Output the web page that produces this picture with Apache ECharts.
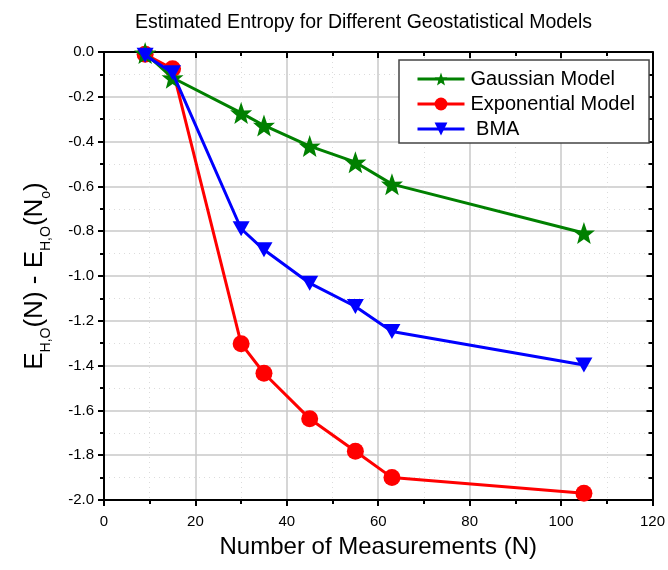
<!DOCTYPE html>
<html>
<head>
<meta charset="utf-8">
<script src="https://cdn.jsdelivr.net/npm/echarts@6/dist/echarts.min.js"></script>
<style>
  html, body { margin: 0; padding: 0; background: #fff; }
  #chart { width: 668px; height: 570px; }
</style>
</head>
<body>
<div id="chart"></div>
<script>
// Number of measurements N
const measurements = [9, 15, 30, 35, 45, 55, 63, 105];
// Entropy difference E_H,O(N) - E_H,O(N_o) per geostatistical model
const gaussian    = [-0.005, -0.115, -0.272, -0.328, -0.420, -0.492, -0.590, -0.808];
const exponential = [-0.010, -0.075, -1.302, -1.434, -1.637, -1.782, -1.900, -1.970];
const bma         = [-0.015, -0.093, -0.789, -0.883, -1.032, -1.136, -1.248, -1.397];

const seriesNames = ['Gaussian Model', 'Exponential Model', ' BMA'];

const xRange = { min: 0, max: 120, interval: 20 };
const yRange = { min: -2.0, max: 0.0, interval: 0.2 };

const FONT = 'Liberation Sans, Arial, sans-serif';
const STAR = 'path://M50 0 L62.5 35.5 L97.6 34.5 L70 56.5 L79.4 90.5 L50 71 L20.6 90.5 L30 56.5 L2.4 34.5 L37.5 35.5 Z';

const pairs = ys => measurements.map((x, i) => [x, ys[i]]);

const gridLine = { show: true, lineStyle: { color: '#c8c8c8', width: 1.5 } };
const minorGridLine = { show: true, lineStyle: { color: '#dcdcdc', width: 1, type: [1, 4] } };
const axisLine = { show: true, onZero: false, lineStyle: { color: '#000', width: 2 } };

const chart = echarts.init(document.getElementById('chart'));

chart.setOption({
  animation: false,
  backgroundColor: '#fff',
  title: {
    text: 'Estimated Entropy for Different Geostatistical Models',
    left: 130,
    top: 8,
    textStyle: { fontFamily: FONT, fontSize: 19.5, fontWeight: 'normal', color: '#000' }
  },
  grid: { left: 104, right: 13, top: 52, bottom: 70, containLabel: false },
  legend: {
    orient: 'vertical',
    left: 399,
    top: 60,
    padding: [9, 14, 4, 17],
    itemGap: 5,
    itemWidth: 47,
    itemHeight: 16,
    backgroundColor: '#fff',
    borderColor: '#444',
    borderWidth: 1.5,
    borderRadius: 0,
    lineStyle: { width: 3 },
    data: seriesNames,
    textStyle: { fontFamily: FONT, fontSize: 20, color: '#000', padding: [0, 0, 0, 1] }
  },
  xAxis: [
    {
      type: 'value', position: 'bottom',
      min: xRange.min, max: xRange.max, interval: xRange.interval,
      name: 'Number of Measurements (N)',
      nameLocation: 'middle', nameGap: 35,
      nameTextStyle: { fontFamily: FONT, fontSize: 24, color: '#000' },
      axisLine: axisLine,
      axisTick: { show: true, inside: false, length: 6, lineStyle: { color: '#000', width: 2 } },
      minorTick: { show: true, splitNumber: 2, length: 4, lineStyle: { color: '#000', width: 2 } },
      axisLabel: { fontFamily: FONT, fontSize: 15, color: '#000', margin: 14 },
      splitLine: gridLine,
      minorSplitLine: minorGridLine
    },
    {
      type: 'value', position: 'top',
      min: xRange.min, max: xRange.max, interval: xRange.interval,
      axisLine: axisLine,
      axisTick: { show: true, inside: true, length: 6, lineStyle: { color: '#000', width: 2 } },
      minorTick: { show: true, splitNumber: 2, length: 4, lineStyle: { color: '#000', width: 2 } },
      axisLabel: { show: false },
      splitLine: { show: false }
    }
  ],
  yAxis: [
    {
      type: 'value', position: 'left',
      min: yRange.min, max: yRange.max, interval: yRange.interval,
      name: '{e|E}{s|H,O}{e|(N) - E}{s|H,O}{e|(N}{s|o}{e|)}',
      nameLocation: 'middle', nameRotate: 90, nameGap: 56,
      nameTextStyle: {
        fontFamily: FONT, fontSize: 26, color: '#000',
        rich: {
          e: { fontFamily: FONT, fontSize: 26, color: '#000', verticalAlign: 'bottom', lineHeight: 30 },
          s: { fontFamily: FONT, fontSize: 14, color: '#000', verticalAlign: 'bottom', lineHeight: 30, padding: [0, 0, -5, 0] }
        }
      },
      axisLine: axisLine,
      axisTick: { show: true, inside: false, length: 6, lineStyle: { color: '#000', width: 2 } },
      minorTick: { show: true, splitNumber: 2, length: 4, lineStyle: { color: '#000', width: 2 } },
      axisLabel: {
        fontFamily: FONT, fontSize: 15, color: '#000', margin: 10,
        formatter: v => (Math.abs(v) < 1e-9 ? 0 : v).toFixed(1)
      },
      splitLine: gridLine,
      minorSplitLine: minorGridLine
    },
    {
      type: 'value', position: 'right',
      min: yRange.min, max: yRange.max, interval: yRange.interval,
      axisLine: axisLine,
      axisTick: { show: true, inside: true, length: 6, lineStyle: { color: '#000', width: 2 } },
      minorTick: { show: true, splitNumber: 2, length: 4, lineStyle: { color: '#000', width: 2 } },
      axisLabel: { show: false },
      splitLine: { show: false }
    }
  ],
  series: [
    {
      name: seriesNames[0], type: 'line', xAxisIndex: 0, yAxisIndex: 0,
      data: pairs(gaussian), clip: false,
      symbol: STAR, symbolSize: 22,
      lineStyle: { color: '#008000', width: 3 },
      itemStyle: { color: '#008000' }, z: 3
    },
    {
      name: seriesNames[1], type: 'line', xAxisIndex: 0, yAxisIndex: 0,
      data: pairs(exponential), clip: false,
      symbol: 'circle', symbolSize: 17,
      lineStyle: { color: '#ff0000', width: 3 },
      itemStyle: { color: '#ff0000' }, z: 2
    },
    {
      name: seriesNames[2], type: 'line', xAxisIndex: 0, yAxisIndex: 0,
      data: pairs(bma), clip: false,
      symbol: 'triangle', symbolRotate: 180, symbolSize: [17, 15],
      lineStyle: { color: '#0000ff', width: 3 },
      itemStyle: { color: '#0000ff' }, z: 4
    }
  ]
});
</script>
</body>
</html>
